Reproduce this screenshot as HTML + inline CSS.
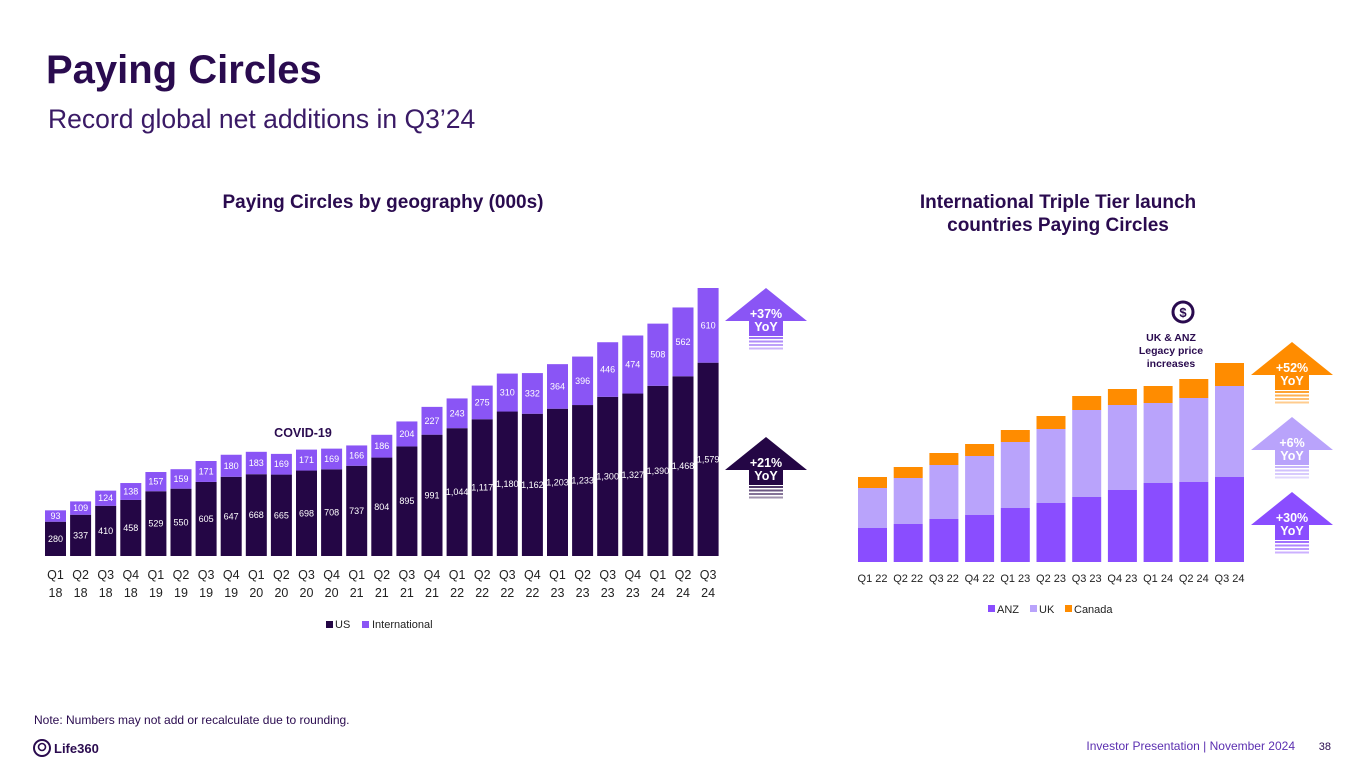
<!DOCTYPE html>
<html><head><meta charset="utf-8"><style>
body{margin:0;background:#fff;}
svg{display:block;font-family:"Liberation Sans",sans-serif;}
</style></head><body>
<svg id="s" width="1365" height="768" viewBox="0 0 1365 768" xmlns="http://www.w3.org/2000/svg">
<text x="46" y="83" font-size="40" font-weight="bold" fill="#2a0b4f">Paying Circles</text>
<text x="48" y="128" font-size="26.5" fill="#3a1a66">Record global net additions in Q3’24</text>
<text x="383" y="208" font-size="19" font-weight="bold" fill="#2a0b4f" text-anchor="middle">Paying Circles by geography (000s)</text>
<text x="1058" y="208" font-size="19" font-weight="bold" fill="#2a0b4f" text-anchor="middle">International Triple Tier launch</text>
<text x="1058" y="231" font-size="19" font-weight="bold" fill="#2a0b4f" text-anchor="middle">countries Paying Circles</text>
<g id="left"></g>
<g id="right"></g>
<text x="303" y="437" font-size="12.5" font-weight="bold" fill="#2a0b4f" text-anchor="middle">COVID-19</text>
<g>
<circle cx="1183" cy="312" r="10" fill="none" stroke="#2a0b4f" stroke-width="3"/>
<text x="1183" y="317" font-size="13" font-weight="bold" fill="#2a0b4f" text-anchor="middle">$</text>
<text x="1171" y="341" font-size="10.5" font-weight="bold" fill="#2a0b4f" text-anchor="middle">UK &amp; ANZ</text>
<text x="1171" y="354" font-size="10.5" font-weight="bold" fill="#2a0b4f" text-anchor="middle">Legacy price</text>
<text x="1171" y="367" font-size="10.5" font-weight="bold" fill="#2a0b4f" text-anchor="middle">increases</text>
</g>
<text x="34" y="724" font-size="12" fill="#2a0b4f">Note: Numbers may not add or recalculate due to rounding.</text>
<g>
<circle cx="42" cy="748" r="8" fill="none" stroke="#2a0b4f" stroke-width="2"/>
<circle cx="42" cy="747" r="3.5" fill="none" stroke="#2a0b4f" stroke-width="1.6"/>
<text x="54" y="753" font-size="13" font-weight="bold" fill="#2a0b4f">Life360</text>
</g>
<text x="1295" y="750" font-size="12" fill="#5b2fb0" text-anchor="end">Investor Presentation  |  November 2024</text>
<text x="1331" y="750" font-size="11" fill="#2a0b4f" text-anchor="end">38</text>
</svg>
<script>
const NS="http://www.w3.org/2000/svg";
const quarters=["Q1","Q2","Q3","Q4","Q1","Q2","Q3","Q4","Q1","Q2","Q3","Q4","Q1","Q2","Q3","Q4","Q1","Q2","Q3","Q4","Q1","Q2","Q3","Q4","Q1","Q2","Q3"];
const years=["18","18","18","18","19","19","19","19","20","20","20","20","21","21","21","21","22","22","22","22","23","23","23","23","24","24","24"];
const usValues=[280,337,410,458,529,550,605,647,668,665,698,708,737,804,895,991,1044,1117,1180,1162,1203,1233,1300,1327,1390,1468,1579];
const intlValues=[93,109,124,138,157,159,171,180,183,169,171,169,166,186,204,227,243,275,310,332,364,396,446,474,508,562,610];
const ttCategories=["Q1 22","Q2 22","Q3 22","Q4 22","Q1 23","Q2 23","Q3 23","Q4 23","Q1 24","Q2 24","Q3 24"];
const anzValues=[34,38,43,47,54,59,65,72,79,80,85];
const ukValues=[40,46,54,59,66,74,87,85,80,84,91];
const canadaValues=[11,11,12,12,12,13,14,16,17,19,23];

function mk(parent,tag,attrs,txt){const e=document.createElementNS(NS,tag);for(const k in attrs)e.setAttribute(k,attrs[k]);if(txt!=null)e.textContent=txt;parent.appendChild(e);return e;}
function fmt(v){return v>=1000?Math.floor(v/1000)+","+String(v%1000).padStart(3,"0"):String(v);}

const L=document.getElementById("left");
const lBase=556,lScale=268/2189,lX0=45,lPitch=25.1,lW=21;
const ly=v=>lBase-v*lScale, lx=i=>lX0+i*lPitch;
usValues.forEach((u,i)=>{
  const t=u+intlValues[i];
  const r1=mk(L,"rect",{x:lx(i),y:ly(u),width:lW,height:u*lScale,fill:"#240645"});
  
  
  const r2=mk(L,"rect",{x:lx(i),y:ly(t),width:lW,height:intlValues[i]*lScale,fill:"#8a55f5"});
  
  
  mk(L,"text",{x:lx(i)+lW/2,y:(ly(u)+lBase)/2+3,"font-size":9,fill:"#fff","text-anchor":"middle"},fmt(u));
  mk(L,"text",{x:lx(i)+lW/2,y:(ly(t)+ly(u))/2+3,"font-size":9,fill:"#fff","text-anchor":"middle"},fmt(intlValues[i]));
  const a=mk(L,"text",{x:lx(i)+lW/2,y:579,"font-size":12.5,fill:"#222","text-anchor":"middle"},quarters[i]);
  
  
  mk(L,"text",{x:lx(i)+lW/2,y:597,"font-size":12.5,fill:"#222","text-anchor":"middle"},years[i]);
});
const lg=mk(L,"g",{});


mk(lg,"rect",{x:326,y:621,width:7,height:7,fill:"#240645"});
mk(lg,"text",{x:335,y:628,"font-size":11,fill:"#222"},"US");
mk(lg,"rect",{x:362,y:621,width:7,height:7,fill:"#8a55f5"});
mk(lg,"text",{x:372,y:628,"font-size":11,fill:"#222"},"International");

const R=document.getElementById("right");
const rBase=562,rX0=858,rPitch=35.7,rW=29;
const rx=i=>rX0+i*rPitch;
ttCategories.forEach((c,i)=>{
  let y=rBase;
  [[anzValues,"#8a4dff","anz"],[ukValues,"#b9a3fb","uk"],[canadaValues,"#ff8c00","canada"]].forEach(([arr,col,nm])=>{
    y-=arr[i];
    const r=mk(R,"rect",{x:rx(i),y:y,width:rW,height:arr[i],fill:col});
    
    
  });
  const t=mk(R,"text",{x:rx(i)+rW/2,y:582,"font-size":11,fill:"#222","text-anchor":"middle"},c);
  
  
});
const rg=mk(R,"g",{});


[["ANZ","#8a4dff",988],["UK","#b9a3fb",1030],["Canada","#ff8c00",1065]].forEach(([n,c,x])=>{
  mk(rg,"rect",{x:x,y:605,width:7,height:7,fill:c});
  mk(rg,"text",{x:x+9,y:613,"font-size":11,fill:"#222"},n);
});

const S=document.getElementById("s");
function arrow(cx,top,col,label){
  const g=mk(S,"g",{});
  
  
  mk(g,"path",{d:`M${cx} ${top} L${cx+41} ${top+33} L${cx+17} ${top+33} L${cx+17} ${top+48} L${cx-17} ${top+48} L${cx-17} ${top+33} L${cx-41} ${top+33} Z`,fill:col});
  for(let k=0;k<4;k++) mk(g,"rect",{x:cx-17,y:top+49+k*3.5,width:34,height:2,fill:col,opacity:0.8-k*0.12});
  mk(g,"text",{x:cx,y:top+30,"font-size":12.5,"font-weight":"bold",fill:"#fff","text-anchor":"middle"},label);
  mk(g,"text",{x:cx,y:top+43,"font-size":12.5,"font-weight":"bold",fill:"#fff","text-anchor":"middle"},"YoY");
}
arrow(766,288,"#8a55f5","+37%");
arrow(766,437,"#240645","+21%");
arrow(1292,342,"#ff8c00","+52%");
arrow(1292,417,"#b9a3fb","+6%");
arrow(1292,492,"#8a4dff","+30%");
</script>
</body></html>
